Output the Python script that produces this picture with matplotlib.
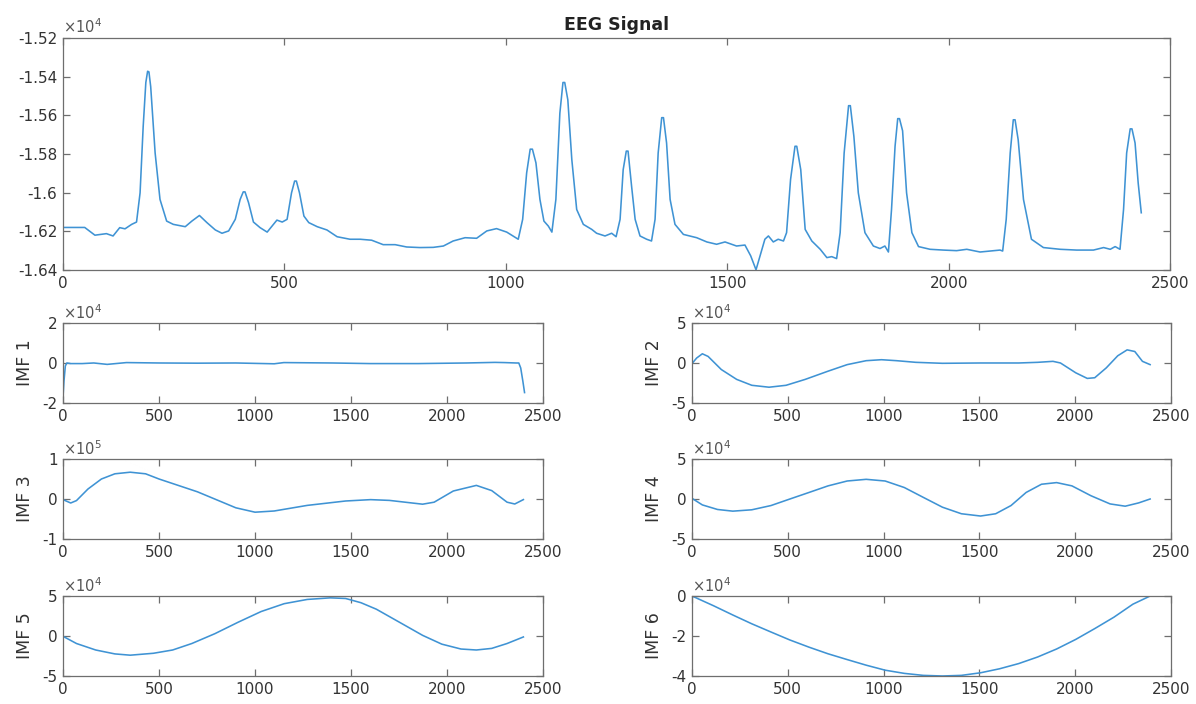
import numpy as np
import matplotlib
matplotlib.use("Agg")
import matplotlib.pyplot as plt
import matplotlib.ticker as mticker

# ── Data ───────────────────────────────────────────────────────────────────────
eeg_x = [0, 49, 72, 98, 113, 128, 140, 155, 166, 174, 181, 187, 191, 194, 198, 208,
         219, 234, 249, 276, 291, 308, 325, 344, 359, 374, 389, 400, 407, 411, 419,
         430, 445, 461, 472, 483, 495, 506, 516, 523, 527, 534, 544, 555, 574, 596,
         619, 648, 671, 697, 723, 750, 776, 806, 836, 859, 881, 908, 934, 957,
         979, 1002, 1028, 1038, 1047, 1055, 1060, 1068, 1077, 1086, 1096, 1104, 1113,
         1122, 1129, 1133, 1140, 1149, 1160, 1175, 1194, 1205, 1224, 1239, 1249, 1258,
         1265, 1272, 1276, 1284, 1292, 1303, 1318, 1329, 1337, 1344, 1352, 1356, 1363,
         1371, 1382, 1401, 1431, 1454, 1476, 1495, 1521, 1540, 1553, 1565, 1574, 1585,
         1593, 1604, 1615, 1627, 1634, 1643, 1653, 1657, 1666, 1676, 1691, 1710, 1725,
         1736, 1747, 1755, 1764, 1774, 1778, 1786, 1796, 1811, 1830, 1845, 1856, 1864,
         1871, 1879, 1885, 1889, 1896, 1905, 1917, 1932, 1958, 1988, 2018, 2041, 2071,
         2094, 2116, 2122, 2130, 2139, 2146, 2150, 2157, 2169, 2187, 2214, 2252, 2289,
         2327, 2350, 2365, 2376, 2387, 2395, 2402, 2410, 2414, 2421, 2428, 2435]
eeg_y = [-16180, -16180, -16220, -16212, -16224, -16181, -16187, -16164, -16152,
         -16001, -15658, -15430, -15372, -15375, -15452, -15795, -16035, -16147,
         -16164, -16176, -16147, -16118, -16155, -16193, -16210, -16198, -16138,
         -16035, -15996, -15996, -16052, -16152, -16181, -16204, -16173, -16142,
         -16152, -16138, -16001, -15940, -15940, -16001, -16121, -16155, -16176,
         -16193, -16228, -16241, -16241, -16246, -16269, -16269, -16281, -16284,
         -16283, -16276, -16250, -16233, -16236, -16198, -16186, -16204, -16241,
         -16138, -15898, -15775, -15775, -15846, -16035, -16147, -16173, -16204,
         -16035, -15589, -15430, -15430, -15520, -15829, -16087, -16164, -16190,
         -16210, -16224, -16210, -16228, -16138, -15881, -15785, -15785, -15967,
         -16138, -16224, -16241, -16250, -16138, -15795, -15612, -15612, -15743,
         -16035, -16164, -16216, -16233, -16255, -16267, -16255, -16276, -16271,
         -16327, -16399, -16327, -16241, -16224, -16255, -16241, -16250, -16207,
         -15932, -15760, -15760, -15881, -16190, -16250, -16293, -16336, -16331,
         -16341, -16207, -15795, -15550, -15550, -15709, -16001, -16207, -16276,
         -16289, -16276, -16307, -16087, -15760, -15617, -15617, -15680, -16001,
         -16207, -16279, -16293, -16297, -16300, -16293, -16307, -16302, -16297,
         -16302, -16138, -15795, -15623, -15623, -15726, -16035, -16241, -16284,
         -16293, -16297, -16297, -16284, -16293, -16279, -16293, -16087, -15795,
         -15670, -15670, -15743, -15949, -16104]

imf1_x = [0, 5, 12, 20, 40, 100, 160, 230, 330, 500, 700, 900, 1100, 1150,
          1400, 1600, 1850, 2100, 2250, 2300, 2360, 2374, 2384, 2395, 2404]
imf1_y = [-17000, -9000, -1500, 0, -300, -300, 0, -700, 200, 0, -100, 0, -400,
          200, 0, -300, -300, 0, 300, 200, 0, 0, -2500, -9000, -14800]

imf2_x = [0, 24, 54, 84, 153, 233, 312, 402, 491, 591, 710, 810, 909, 989, 1068,
          1168, 1307, 1506, 1705, 1804, 1884, 1923, 2003, 2063, 2102, 2162, 2222,
          2271, 2311, 2351, 2391]
imf2_y = [-800, 6150, 11500, 8200, -8200, -20500, -27900, -30300, -27900, -20500,
          -10250, -2050, 2870, 4100, 2870, 820, -410, 0, 0, 820, 2050, 0, -12300,
          -19300, -18450, -6150, 9000, 16400, 14350, 2050, -2050]

imf3_x = [0, 40, 70, 130, 200, 270, 350, 430, 500, 600, 700, 790, 900, 1000,
          1100, 1272, 1472, 1602, 1700, 1800, 1873, 1933, 2033, 2153, 2233, 2313,
          2353, 2398]
imf3_y = [-1600, -10000, -4000, 25000, 50000, 63000, 67000, 63000, 50000, 34000,
          18000, 0, -22000, -33000, -30000, -16000, -5000, -1600, -3500, -9000,
          -13000, -8000, 20000, 34000, 21000, -8000, -12500, -1500]

imf4_x = [0, 54, 133, 213, 312, 412, 511, 611, 710, 810, 909, 1008, 1108, 1207,
          1307, 1406, 1506, 1585, 1665, 1744, 1824, 1903, 1983, 2082, 2182, 2261,
          2331, 2391]
imf4_y = [800, -7400, -13100, -15200, -13500, -8200, 0, 8200, 16400, 22500,
          24600, 22500, 14350, 2050, -10250, -18450, -21300, -18450, -8200, 8200,
          18450, 20500, 16400, 4100, -6150, -9000, -4900, 0]

imf5_x = [0, 70, 170, 270, 350, 471, 571, 671, 791, 911, 1032, 1152, 1272, 1392,
          1472, 1552, 1632, 1753, 1873, 1973, 2073, 2153, 2233, 2313, 2398]
imf5_y = [-400, -9400, -17500, -22400, -24000, -21600, -17500, -9400, 2900,
          17100, 30600, 40400, 45700, 47700, 46900, 41600, 33500, 17100, 800,
          -10200, -16300, -17500, -15500, -9400, -1200]

imf6_x = [0, 113, 213, 312, 412, 511, 611, 710, 810, 909, 1008, 1108, 1207, 1307,
          1406, 1506, 1605, 1705, 1804, 1903, 2003, 2102, 2202, 2301, 2391]
imf6_y = [0, -4900, -9500, -13900, -18000, -22000, -25600, -28900, -31800,
          -34600, -37100, -38700, -39700, -40000, -39700, -38400, -36400, -33800,
          -30500, -26500, -21700, -16300, -10600, -4100, 0]

x_ticks = [0, 500, 1000, 1500, 2000, 2500]

# ── Style ──────────────────────────────────────────────────────────────────────
LINE_C  = "#3f93d4"
SPINE_C = "#6e6e6e"
TEXT_C  = "#333333"
plt.rcParams["font.family"] = "DejaVu Sans"

fig = plt.figure(figsize=(11.96, 7.04), dpi=100)


def style_axes(ax, ylim, yticks, exp, ylabel=None):
    scale = 10 ** exp
    ax.set_xlim(0, 2500)
    ax.set_ylim(*ylim)
    ax.set_xticks(x_ticks)
    ax.set_yticks(yticks)
    ax.xaxis.set_major_formatter(mticker.FuncFormatter(lambda v, _: f"{v:g}"))
    ax.yaxis.set_major_formatter(
        mticker.FuncFormatter(lambda v, _: f"{round(v / scale, 6):g}"))
    ax.tick_params(direction="in", top=True, right=True, length=5, width=0.9,
                   color=SPINE_C, labelcolor=TEXT_C, labelsize=11, pad=4)
    for s in ax.spines.values():
        s.set_color(SPINE_C)
        s.set_linewidth(0.9)
    ax.text(0.0, 1.01, f"×10$^{{{exp}}}$", transform=ax.transAxes,
            ha="left", va="bottom", fontsize=10.5, color="#555555")
    if ylabel:
        ax.set_ylabel(ylabel, fontsize=12.5, color=TEXT_C, labelpad=6)


# top: EEG signal
ax0 = fig.add_axes([0.0527, 0.6165, 0.9256, 0.3295])
ax0.plot(eeg_x, eeg_y, color=LINE_C, lw=1.15, solid_joinstyle="round")
style_axes(ax0, (-16400, -15200), [-16400, -16200, -16000, -15800, -15600,
                                   -15400, -15200], 4)
ax0.set_title("EEG Signal", fontsize=12.5, fontweight="bold", color="#222222",
              pad=6)

# IMF panels
L_LEFT, R_LEFT = 0.0527, 0.5786
W_L, W_R = 0.4013, 0.4005
H = 0.1136
rows = [0.4276, 0.2344, 0.0398]

panels = [
    (L_LEFT, W_L, rows[0], imf1_x, imf1_y, (-20000, 20000), [-20000, 0, 20000], 4, "IMF 1"),
    (R_LEFT, W_R, rows[0], imf2_x, imf2_y, (-50000, 50000), [-50000, 0, 50000], 4, "IMF 2"),
    (L_LEFT, W_L, rows[1], imf3_x, imf3_y, (-100000, 100000), [-100000, 0, 100000], 5, "IMF 3"),
    (R_LEFT, W_R, rows[1], imf4_x, imf4_y, (-50000, 50000), [-50000, 0, 50000], 4, "IMF 4"),
    (L_LEFT, W_L, rows[2], imf5_x, imf5_y, (-50000, 50000), [-50000, 0, 50000], 4, "IMF 5"),
    (R_LEFT, W_R, rows[2], imf6_x, imf6_y, (-40000, 0), [-40000, -20000, 0], 4, "IMF 6"),
]

for left, w, bottom, xs, ys, ylim, yt, exp, lab in panels:
    ax = fig.add_axes([left, bottom, w, H])
    ax.plot(xs, ys, color=LINE_C, lw=1.15, solid_joinstyle="round")
    style_axes(ax, ylim, yt, exp, lab)

fig.savefig("out.png", dpi=100)
plt.close(fig)
